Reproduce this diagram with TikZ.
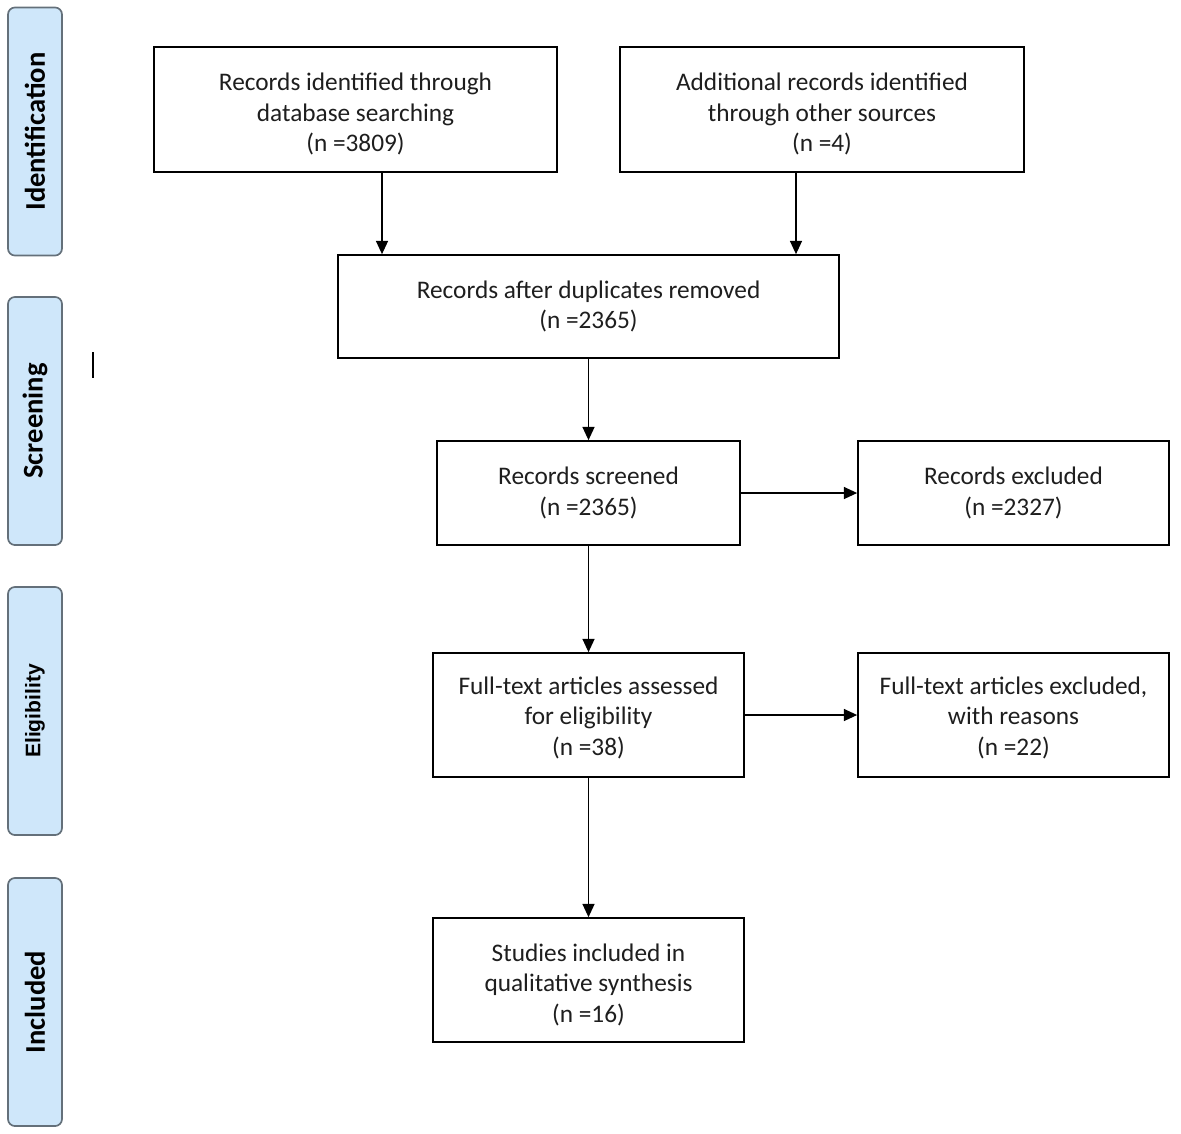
\documentclass[tikz,border=0pt]{standalone}
\usepackage{fontspec}
\setmainfont{Carlito}
\newfontfamily\arialfont{Liberation Sans}
\usetikzlibrary{arrows.meta}
\definecolor{phasefill}{RGB}{207,231,250}
\definecolor{phasedraw}{RGB}{100,112,122}
\definecolor{txt}{RGB}{30,30,30}
\begin{document}
\begin{tikzpicture}[x=0.025cm, y=-0.025cm]
\tikzset{
	box/.style={draw=black, line width=1.2pt, align=center, text=txt,
		font=\fontsize{18}{21.8}\selectfont, inner sep=0pt},
	lowtext/.style={text height=#1},
	phase/.style={draw=phasedraw, fill=phasefill, line width=1.2pt, rounded corners=5pt,
		rotate=90, minimum width=6.2cm, minimum height=1.35cm, inner sep=0pt,
		font=\fontsize{20.3}{24}\selectfont\bfseries},
	->/.style={-{Triangle[width=0.3cm,length=0.33cm]}, line width=0.9pt}
}
\useasboundingbox (0,0) rectangle (1181,1133);

% phases
\node[phase] (p_id) at (35,131.5) {Identification};
\node[phase] (p_sc) at (35,421) {Screening};
\node[phase, font=\fontsize{15}{18}\selectfont\arialfont\bfseries] (p_el) at (35,711) {Eligibility};
\node[phase] (p_in) at (35,1002) {Included};
\draw[line width=1pt] (93,352) -- (93,378);

% identification
\node[box, lowtext=62.7pt, minimum width=10.075cm, minimum height=3.125cm] (r_db) at (355.5,109.5)
	{Records identified through\\database searching\\(n =3809)};
\node[box, lowtext=62.7pt, minimum width=10.1cm, minimum height=3.125cm] (r_other) at (822,109.5)
	{Additional records identified\\through other sources\\(n =4)};

% screening
\node[box, minimum width=12.525cm, minimum height=2.575cm] (r_dup) at (588.5,306.5)
	{Records after duplicates removed\\(n =2365)};
\node[box, minimum width=7.575cm, minimum height=2.6cm] (r_scr) at (588.5,493)
	{Records screened\\(n =2365)};
\node[box, minimum width=7.775cm, minimum height=2.6cm] (r_exc) at (1013.5,493)
	{Records excluded\\(n =2327)};

% eligibility
\node[box, lowtext=59.9pt, minimum width=7.775cm, minimum height=3.1cm] (ft_ass) at (588.5,715)
	{Full-text articles assessed\\for eligibility\\(n =38)};
\node[box, lowtext=59.9pt, minimum width=7.775cm, minimum height=3.1cm] (ft_exc) at (1013.5,715)
	{Full-text articles excluded,\\with reasons\\(n =22)};

% included
\node[box, lowtext=62.7pt, minimum width=7.775cm, minimum height=3.1cm] (st_inc) at (588.5,980)
	{Studies included in\\qualitative synthesis\\(n =16)};

% arrows
\draw[->] ([xshift=0.6625cm]r_db.south) -- ([xshift=0.6625cm]r_db.south |- r_dup.north);
\draw[->] ([xshift=-0.65cm]r_other.south) -- ([xshift=-0.65cm]r_other.south |- r_dup.north);
\draw[->] (r_dup) -- (r_scr);
\draw[->] (r_scr) -- (r_exc);
\draw[->] (r_scr) -- (ft_ass);
\draw[->] (ft_ass) -- (ft_exc);
\draw[->] (ft_ass) -- (st_inc);

\end{tikzpicture}
\end{document}
